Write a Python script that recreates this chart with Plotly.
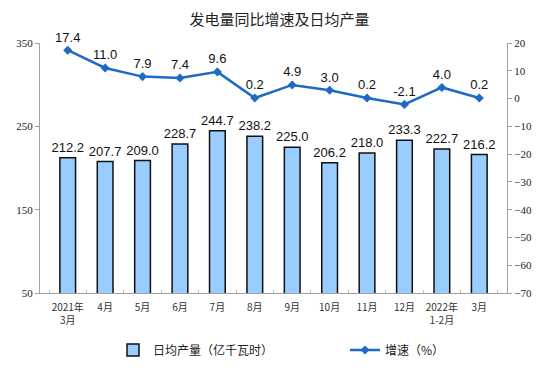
import plotly.graph_objects as go

categories = ["2021年<br>3月", "4月", "5月", "6月", "7月", "8月", "9月", "10月", "11月", "12月", "2022年<br>1-2月", "3月"]
daily_output = [212.2, 207.7, 209.0, 228.7, 244.7, 238.2, 225.0, 206.2, 218.0, 233.3, 222.7, 216.2]
growth_rate = [17.4, 11.0, 7.9, 7.4, 9.6, 0.2, 4.9, 3.0, 0.2, -2.1, 4.0, 0.2]

left_ticks = [50, 150, 250, 350]
right_ticks = [20, 10, 0, -10, -20, -30, -40, -50, -60, -70]

sans = "Arial, Liberation Sans, sans-serif"
cjk = "Noto Sans CJK SC, sans-serif"
serif = "Liberation Serif, Times New Roman, serif"

fig = go.Figure()
fig.add_trace(go.Bar(
    x=categories, y=daily_output, name="日均产量（亿千瓦时）",
    marker=dict(color="#99CCFF", line=dict(color="#111111", width=1.5)),
    width=0.42,
    text=[f"{v:.1f}" for v in daily_output], textposition="outside",
    constraintext="none",
    textfont=dict(family=sans, size=13, color="#111111"),
    cliponaxis=False, yaxis="y", legend="legend", showlegend=True,
))
fig.add_trace(go.Scatter(
    x=categories, y=growth_rate, name="增速（%）",
    mode="lines+markers+text",
    line=dict(color="#1F6BC4", width=2.5),
    marker=dict(symbol="diamond", size=7, color="#1F6BC4"),
    text=[f"{v:.1f}" for v in growth_rate], textposition="top center",
    textfont=dict(family=sans, size=13, color="#111111"),
    cliponaxis=False, yaxis="y2", legend="legend2", showlegend=True,
))

legend_font = dict(family=cjk, size=12, color="#222222")
fig.update_layout(
    width=559, height=385,
    showlegend=True,
    margin=dict(l=40, r=52, t=43, b=92, autoexpand=False),
    plot_bgcolor="white", paper_bgcolor="white",
    title=dict(text="发电量同比增速及日均产量", x=0.5, xanchor="center",
               y=1 - 20 / 385, yref="container", yanchor="middle",
               font=dict(family=cjk, size=15, color="#222222")),
    xaxis=dict(
        type="category", showline=True, linecolor="#A0A0A0", linewidth=1,
        ticks="inside", tickson="boundaries", ticklen=3, tickcolor="#C0C0C0",
        tickangle=0, ticklabelstandoff=5, automargin=False,
        tickfont=dict(family=cjk, size=10, color="#333333"),
        showgrid=False, zeroline=False,
    ),
    yaxis=dict(
        range=[50, 350], tickvals=left_ticks, showline=True, linecolor="#A0A0A0",
        ticks="outside", ticklen=4, tickcolor="#A0A0A0", automargin=False,
        tickfont=dict(family=serif, size=11, color="#222222"),
        showgrid=False, zeroline=False,
    ),
    yaxis2=dict(
        range=[-70, 20], tickvals=right_ticks, overlaying="y", side="right",
        showline=True, linecolor="#A0A0A0", automargin=False,
        ticks="outside", ticklen=4, tickcolor="#A0A0A0",
        tickfont=dict(family=serif, size=11, color="#222222"),
        showgrid=False, zeroline=False,
    ),
    legend=dict(
        orientation="h", x=113 / 559, xref="container", xanchor="left",
        y=1 - 350 / 385, yref="container", yanchor="middle",
        font=legend_font, itemwidth=30,
    ),
    legend2=dict(
        orientation="h", x=345 / 559, xref="container", xanchor="left",
        y=1 - 350 / 385, yref="container", yanchor="middle",
        font=legend_font, itemwidth=30,
    ),
    bargap=0.58,
)

fig.write_html("out.html", config={"displayModeBar": False},
               post_script="document.body.style.margin='0';")
